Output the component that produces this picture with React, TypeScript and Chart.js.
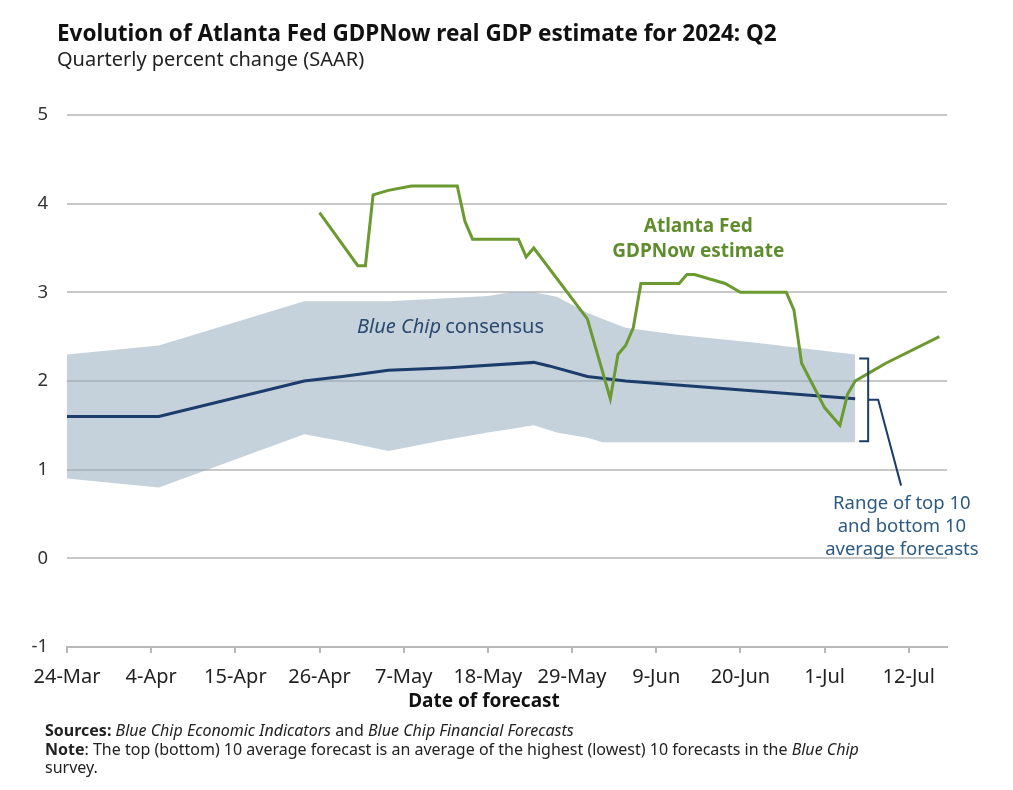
import React, { useEffect, useRef } from "react";
import { Chart, registerables } from "chart.js";

Chart.register(...registerables);

// x values are days since 24-Mar-2024
const TICK_DAYS = [0, 11, 22, 33, 44, 55, 66, 77, 88, 99, 110];
const TICK_LABELS = ["24-Mar", "4-Apr", "15-Apr", "26-Apr", "7-May", "18-May", "29-May", "9-Jun", "20-Jun", "1-Jul", "12-Jul"];

const BAND_DAYS = [0, 12, 31, 36, 42, 49, 55, 58, 61, 64, 68, 70, 73, 80, 90, 103];
const BAND_TOP = [2.3, 2.4, 2.9, 2.9, 2.9, 2.93, 2.96, 3.0, 3.0, 2.95, 2.77, 2.7, 2.6, 2.52, 2.43, 2.3];
const BAND_BOTTOM = [0.9, 0.8, 1.4, 1.32, 1.21, 1.33, 1.42, 1.46, 1.5, 1.42, 1.36, 1.31, 1.31, 1.31, 1.31, 1.31];

const MEAN_DAYS = [0, 12, 31, 36, 42, 50, 61, 63, 68, 73, 103];
const MEAN_VALUES = [1.6, 1.6, 2.0, 2.05, 2.12, 2.15, 2.21, 2.17, 2.05, 2.0, 1.8];

const GDPNOW_DAYS = [33, 38, 39, 40, 42, 45, 51, 52, 53, 59, 60, 61, 68, 71, 72, 73, 74, 75, 80, 81, 82, 84, 86, 88, 94, 95, 96, 99, 101, 102, 103, 105, 107, 114];
const GDPNOW_VALUES = [3.9, 3.3, 3.3, 4.1, 4.15, 4.2, 4.2, 3.8, 3.6, 3.6, 3.4, 3.5, 2.7, 1.8, 2.3, 2.4, 2.6, 3.1, 3.1, 3.2, 3.2, 3.15, 3.1, 3.0, 3.0, 2.8, 2.2, 1.7, 1.5, 1.85, 2.0, 2.1, 2.2, 2.5];

const GREEN = "#6b9a30";
const GREEN_TEXT = "#5f8c2c";
const NAVY = "#1c3c6c";
const BAND = "rgba(150,172,190,0.55)";
const NOTE_BLUE = "#2d5a80";
const FONT = "'Noto Sans', sans-serif";

const zip = (xs: number[], ys: number[]) => xs.map((x, i) => ({ x, y: ys[i] }));

const annotations = {
  id: "annotations",
  afterDatasetsDraw(chart: any) {
    const { ctx, scales } = chart;
    const xs = scales.x;
    const ys = scales.y;
    ctx.save();

    // Blue Chip consensus label
    ctx.textBaseline = "middle";
    ctx.textAlign = "left";
    ctx.fillStyle = "#2a4a6e";
    const bx = xs.getPixelForValue(37.9);
    const by = ys.getPixelForValue(2.61);
    ctx.font = `italic 20px ${FONT}`;
    ctx.fillText("Blue Chip", bx, by);
    const w1 = ctx.measureText("Blue Chip ").width;
    ctx.font = `20px ${FONT}`;
    ctx.fillText("consensus", bx + w1 - 1, by);

    // GDPNow label
    ctx.textAlign = "center";
    ctx.fillStyle = GREEN_TEXT;
    ctx.font = `bold 19px ${FONT}`;
    const gx = xs.getPixelForValue(82.5);
    ctx.fillText("Atlanta Fed", gx, ys.getPixelForValue(3.74));
    ctx.fillText("GDPNow estimate", gx, ys.getPixelForValue(3.46));

    // Bracket
    const endDay = BAND_DAYS[BAND_DAYS.length - 1];
    const ex = xs.getPixelForValue(endDay);
    const top = ys.getPixelForValue(BAND_TOP[BAND_TOP.length - 1]) + 4;
    const bot = ys.getPixelForValue(BAND_BOTTOM[BAND_BOTTOM.length - 1]) - 1;
    const bxr = ex + 13;
    ctx.strokeStyle = NAVY;
    ctx.lineWidth = 2;
    ctx.beginPath();
    ctx.moveTo(bxr - 9, top);
    ctx.lineTo(bxr, top);
    ctx.lineTo(bxr, bot);
    ctx.lineTo(bxr - 9, bot);
    ctx.stroke();
    const mid = (top + bot) / 2;
    ctx.beginPath();
    ctx.moveTo(bxr, mid);
    ctx.lineTo(bxr + 10, mid);
    ctx.lineTo(xs.getPixelForValue(109), ys.getPixelForValue(0.82));
    ctx.stroke();

    // Range label
    ctx.fillStyle = NOTE_BLUE;
    ctx.font = `18.5px ${FONT}`;
    const rx = xs.getPixelForValue(109.1);
    const ry = ys.getPixelForValue(0.62);
    ctx.fillText("Range of top 10", rx, ry);
    ctx.fillText("and bottom 10", rx, ry + 23);
    ctx.fillText("average forecasts", rx, ry + 46);

    // axis title
    ctx.fillStyle = "#111";
    ctx.font = `bold 19px ${FONT}`;
    ctx.textBaseline = "alphabetic";
    ctx.fillText("Date of forecast", 484, 707);
    ctx.restore();
  },
};

export default function App() {
  const ref = useRef<HTMLCanvasElement | null>(null);
  useEffect(() => {
    if (!ref.current) return;
    const chart = new Chart(ref.current, {
      type: "line",
      data: {
        datasets: [
          {
            label: "GDPNow",
            data: zip(GDPNOW_DAYS, GDPNOW_VALUES),
            borderColor: GREEN,
            borderWidth: 3,
            pointRadius: 0,
            fill: false,
            tension: 0,
            order: 0,
          },
          {
            label: "Blue Chip consensus",
            data: zip(MEAN_DAYS, MEAN_VALUES),
            borderColor: NAVY,
            borderWidth: 3,
            pointRadius: 0,
            fill: false,
            order: 1,
          },
          {
            label: "Top 10",
            data: zip(BAND_DAYS, BAND_TOP),
            borderWidth: 0,
            borderColor: "rgba(0,0,0,0)",
            backgroundColor: BAND,
            pointRadius: 0,
            fill: "+1",
            order: 2,
          },
          {
            label: "Bottom 10",
            data: zip(BAND_DAYS, BAND_BOTTOM),
            borderWidth: 0,
            borderColor: "rgba(0,0,0,0)",
            pointRadius: 0,
            fill: false,
            order: 3,
          },
        ],
      },
      options: {
        animation: false,
        responsive: false,
        layout: { padding: { left: 0, right: 66, top: 115, bottom: 93 } },
        plugins: { legend: { display: false }, tooltip: { enabled: false } },
        scales: {
          x: {
            type: "linear",
            min: 0,
            max: 115,
            afterFit: (axis: any) => {
              axis.height = 50;
            },
            afterBuildTicks: (axis: any) => {
              axis.ticks = TICK_DAYS.map((v) => ({ value: v }));
            },
            ticks: {
              autoSkip: false,
              maxRotation: 0,
              padding: 12,
              color: "#222",
              font: { family: "Noto Sans", size: 20 },
              callback: (_v: any, i: number) => TICK_LABELS[i],
            },
            grid: {
              drawOnChartArea: false,
              drawTicks: true,
              tickLength: 6,
              color: "#b8b8b8",
              lineWidth: 2,
            },
            border: { display: true, color: "#b8b8b8", width: 2 },
          },
          y: {
            min: -1,
            max: 5,
            afterFit: (axis: any) => {
              axis.width = 67;
            },
            ticks: {
              stepSize: 1,
              padding: 19,
              color: "#333",
              font: { family: "Noto Sans", size: 18.5 },
            },
            grid: {
              drawTicks: false,
              color: (c: any) => (c.tick && c.tick.value === -1 ? "rgba(0,0,0,0)" : "#c8c8c8"),
              lineWidth: 2,
            },
            border: { display: false },
          },
        },
      },
      plugins: [annotations],
    });
    return () => chart.destroy();
  }, []);

  return (
    <div style={{ position: "absolute", left: 0, top: 0, width: 1013, height: 790, background: "#fff", fontFamily: FONT, color: "#111" }}>
      <canvas ref={ref} width={1013} height={790} style={{ position: "absolute", left: 0, top: 0 }} />
      <div style={{ position: "absolute", left: 57, top: 20, fontSize: 22.5, lineHeight: "26px", fontWeight: "bold", whiteSpace: "nowrap" }}>
        Evolution of Atlanta Fed GDPNow real GDP estimate for 2024: Q2
      </div>
      <div style={{ position: "absolute", left: 57, top: 47, fontSize: 20, lineHeight: "24px", color: "#222", whiteSpace: "nowrap" }}>
        Quarterly percent change (SAAR)
      </div>
      <div style={{ position: "absolute", left: 45, top: 721, fontSize: 16, lineHeight: "18.5px", color: "#222", width: 950 }}>
        <div style={{ whiteSpace: "nowrap" }}>
          <b>Sources:</b> <i>Blue Chip Economic Indicators</i> and <i>Blue Chip Financial Forecasts</i>
        </div>
        <div style={{ whiteSpace: "nowrap" }}>
          <b>Note</b>: The top (bottom) 10 average forecast is an average of the highest (lowest) 10 forecasts in the <i>Blue Chip</i>
        </div>
        <div>survey.</div>
      </div>
    </div>
  );
}
